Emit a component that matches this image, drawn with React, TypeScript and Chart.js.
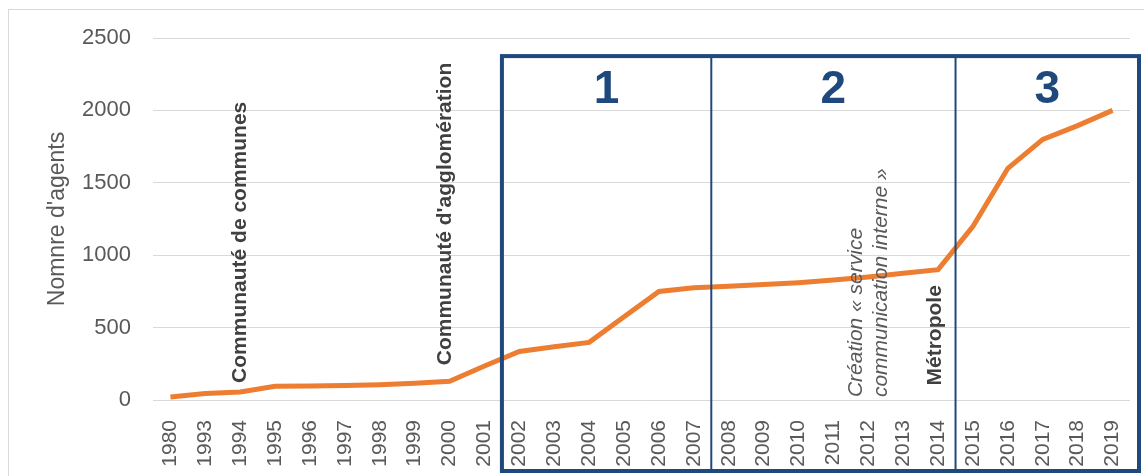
import React, { useEffect, useRef } from "react";
import { Chart, registerables } from "chart.js";

Chart.register(...registerables);

const years: string[] = [
  "1980", "1993", "1994", "1995", "1996", "1997", "1998", "1999", "2000", "2001",
  "2002", "2003", "2004", "2005", "2006", "2007", "2008", "2009", "2010", "2011",
  "2012", "2013", "2014", "2015", "2016", "2017", "2018", "2019",
];

const agents: number[] = [
  20, 45, 55, 95, 97, 100, 105, 115, 130, 235,
  335, 368, 398, 575, 750, 775, 785, 797, 810, 828,
  850, 875, 900, 1200, 1600, 1800, 1895, 2000,
];

const yTicks: number[] = [0, 500, 1000, 1500, 2000, 2500];

const yTitle = "Nomnre d'agents";

const eventLabels = [
  { year: "1994", lines: ["Communauté de communes"], bold: true, italic: false },
  { year: "2000", lines: ["Communauté d'agglomération"], bold: true, italic: false },
  { year: "2012", lines: ["Création « service", "communication interne »"], bold: false, italic: true },
  { year: "2014", lines: ["Métropole"], bold: true, italic: false },
];

const phaseLabels: string[] = ["1", "2", "3"];
// phase boundaries: first year of each phase
const phaseStarts: string[] = ["2002", "2008", "2015"];

const FONT = "'Liberation Sans', Arial, sans-serif";
const BLUE = "#1F497D";

const overlayPlugin = {
  id: "overlay",
  beforeDraw(chart: any) {
    const ctx = chart.ctx;
    ctx.save();
    ctx.fillStyle = "#ffffff";
    ctx.fillRect(0, 0, chart.width, chart.height);
    ctx.strokeStyle = "#d9d9d9";
    ctx.lineWidth = 1;
    ctx.strokeRect(8.5, 9.5, chart.width + 20, chart.height + 20);
    ctx.restore();
  },
  afterDraw(chart: any) {
    const ctx = chart.ctx;
    const x = chart.scales.x;
    const y = chart.scales.y;
    const area = chart.chartArea;
    ctx.save();

    // y-axis title
    ctx.translate(58, (area.top + area.bottom) / 2);
    ctx.rotate(-Math.PI / 2);
    ctx.font = `23px ${FONT}`;
    ctx.fillStyle = "#595959";
    ctx.textAlign = "center";
    ctx.textBaseline = "middle";
    ctx.fillText(yTitle, 0, 0);
    ctx.setTransform(1, 0, 0, 1, 0, 0);

    // event annotations
    const bottoms: Record<string, number> = { "1994": 118, "2000": 240, "2012": 20, "2014": 100 };
    eventLabels.forEach((ev) => {
      const idx = years.indexOf(ev.year);
      const cx = x.getPixelForValue(idx) + (ev.year === "2000" ? -4 : ev.year === "2014" ? -3 : 0);
      const by = y.getPixelForValue(bottoms[ev.year]);
      ctx.font = `${ev.italic ? "italic " : ""}${ev.bold ? "bold " : ""}21px ${FONT}`;
      ctx.fillStyle = ev.bold ? "#404040" : "#595959";
      ctx.textAlign = "left";
      ctx.textBaseline = "middle";
      const n = ev.lines.length;
      ev.lines.forEach((line, i) => {
        const lx = cx + (i - (n - 1) / 2) * 25;
        ctx.setTransform(1, 0, 0, 1, 0, 0);
        ctx.translate(lx, by);
        ctx.rotate(-Math.PI / 2);
        ctx.fillText(line, 0, 0);
      });
    });
    ctx.setTransform(1, 0, 0, 1, 0, 0);

    // phase boxes
    const half = (x.getPixelForValue(1) - x.getPixelForValue(0)) / 2;
    const bounds = phaseStarts.map((yr) => x.getPixelForValue(years.indexOf(yr)) - half);
    const left = bounds[0];
    const top = y.getPixelForValue(2375);
    const right = chart.width - 5;
    const bottom = chart.height - 5;
    ctx.strokeStyle = BLUE;
    ctx.lineWidth = 4;
    ctx.strokeRect(left, top, right - left, bottom - top);
    ctx.lineWidth = 2;
    for (let i = 1; i < bounds.length; i++) {
      ctx.beginPath();
      ctx.moveTo(bounds[i], top);
      ctx.lineTo(bounds[i], bottom);
      ctx.stroke();
    }
    const edges = [...bounds, right];
    ctx.font = `bold 46px ${FONT}`;
    ctx.fillStyle = BLUE;
    ctx.textAlign = "center";
    ctx.textBaseline = "middle";
    phaseLabels.forEach((lab, i) => {
      ctx.fillText(lab, (edges[i] + edges[i + 1]) / 2, y.getPixelForValue(2140));
    });
    ctx.restore();
  },
};

export default function App() {
  const ref = useRef<HTMLCanvasElement | null>(null);
  useEffect(() => {
    if (!ref.current) return;
    const chart = new Chart(ref.current, {
      type: "line",
      data: {
        labels: years,
        datasets: [
          {
            data: agents,
            borderColor: "#ED7D31",
            borderWidth: 5,
            pointRadius: 0,
            tension: 0,
            fill: false,
          },
        ],
      },
      options: {
        animation: false,
        responsive: false,
        layout: { padding: { left: 0, right: 14, top: 38, bottom: 0 } },
        plugins: { legend: { display: false }, tooltip: { enabled: false } },
        scales: {
          x: {
            offset: true,
            grid: { display: false },
            border: { display: false },
            ticks: {
              color: "#595959",
              font: { family: FONT, size: 21 },
              maxRotation: 90,
              minRotation: 90,
              autoSkip: false,
              padding: 12,
            },
            afterFit: (s: any) => {
              s.height = 76;
              s.paddingLeft = 0;
              s.paddingRight = 0;
            },
          },
          y: {
            min: 0,
            max: 2500,
            afterBuildTicks: (s: any) => {
              s.ticks = yTicks.map((v) => ({ value: v }));
            },
            grid: { color: "#d9d9d9", lineWidth: 1, drawTicks: false },
            border: { display: false },
            ticks: {
              color: "#595959",
              font: { family: FONT, size: 22 },
              padding: 22,
              callback: (v: any) => String(v),
            },
            afterFit: (s: any) => {
              s.width = 153;
              s.paddingTop = 0;
              s.paddingBottom = 0;
            },
          },
        },
      },
      plugins: [overlayPlugin],
    });
    return () => chart.destroy();
  }, []);
  return (
    <div style={{ position: "fixed", left: 0, top: 0, width: 1144, height: 476 }}>
      <canvas ref={ref} width={1144} height={476} style={{ display: "block" }} />
    </div>
  );
}
